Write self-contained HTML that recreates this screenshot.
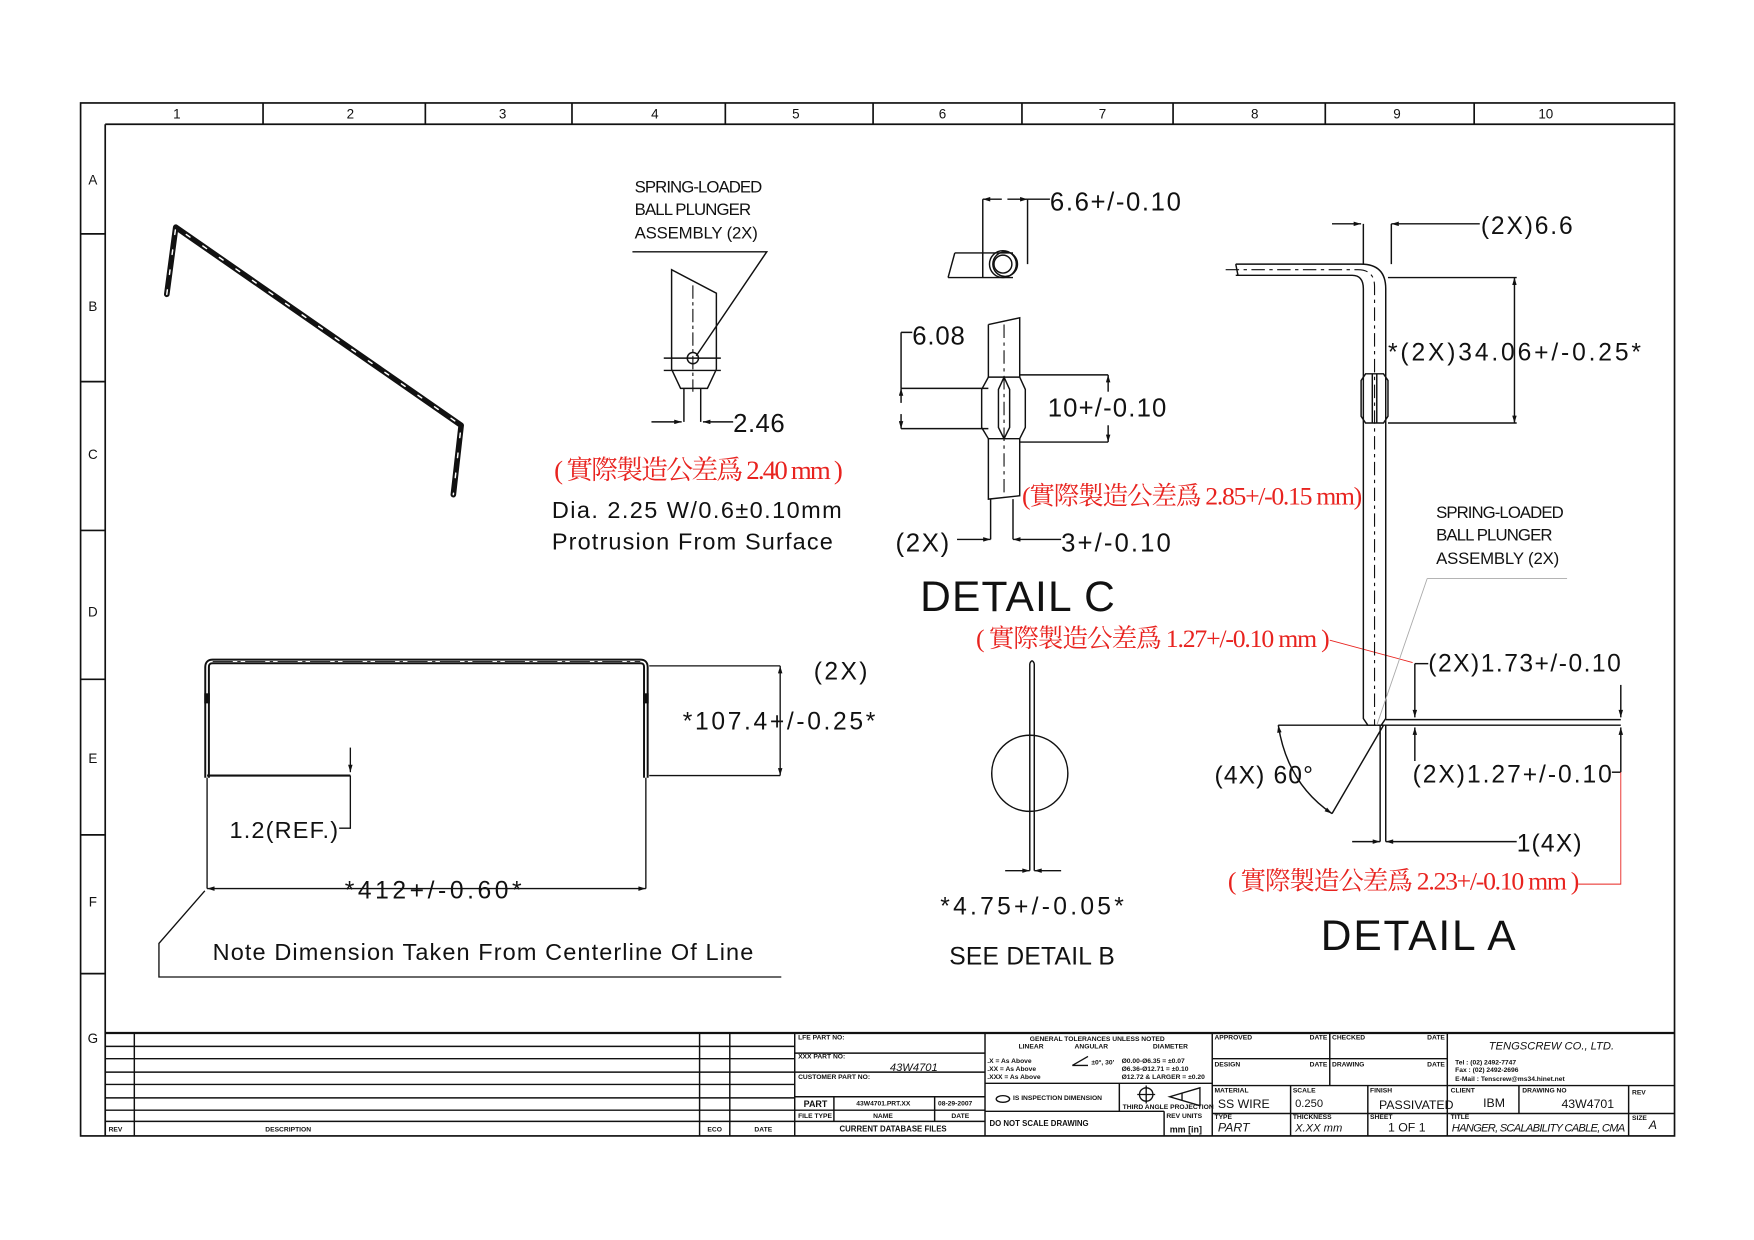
<!DOCTYPE html>
<html><head><meta charset="utf-8"><style>
html,body{margin:0;padding:0;background:#fff}
svg{display:block}
text{font-family:"Liberation Sans",sans-serif;fill:#111}
.cjk{font-family:"Liberation Serif","Noto Serif CJK SC","Noto Sans CJK TC",serif;fill:#e8231f}
.t{font-family:"Liberation Sans",sans-serif;font-weight:bold;font-size:6px}
</style></head><body>
<svg width="1754" height="1240" viewBox="0 0 1567 1108" preserveAspectRatio="none" xmlns="http://www.w3.org/2000/svg">
<defs>
<marker id="a" viewBox="0 0 10 6" refX="10" refY="3" markerWidth="10" markerHeight="4" orient="auto-start-reverse" markerUnits="userSpaceOnUse"><path d="M0,0 L10,3 L0,6 z" fill="#111"/></marker>
</defs>
<rect width="1567" height="1108" fill="#fff"/>
<g stroke="#111" fill="none" stroke-width="1.5">
<rect x="72" y="92" width="1424" height="923"/>
<line x1="94" y1="111" x2="1496" y2="111"/>
<line x1="94" y1="111" x2="94" y2="1015"/>
<path d="M235 92V111M380 92V111M511 92V111M648 92V111M780 92V111M913 92V111M1048 92V111M1184 92V111M1317 92V111"/>
<path d="M72 209H94M72 341H94M72 474H94M72 607H94M72 746H94M72 870H94"/>
</g>
<g font-size="12" text-anchor="middle">
<text x="158" y="106">1</text><text x="313" y="106">2</text><text x="449" y="106">3</text><text x="585" y="106">4</text><text x="711" y="106">5</text><text x="842" y="106">6</text><text x="985" y="106">7</text><text x="1121" y="106">8</text><text x="1248" y="106">9</text><text x="1381" y="106">10</text>
<text x="83" y="165">A</text><text x="83" y="278">B</text><text x="83" y="410">C</text><text x="83" y="551">D</text><text x="83" y="682">E</text><text x="83" y="810">F</text><text x="83" y="932">G</text>
</g>

<g stroke="#111" fill="none" stroke-width="1.3">
<line x1="94" y1="923" x2="1496" y2="923" stroke-width="2"/>
<path d="M94 935H710M94 946H710M94 958H710M94 969H710M94 981H710M94 992H710M94 1002H710"/>
<path d="M120 923V1015M625 923V1015M652 923V1015M710 923V1015"/>
<path d="M710 941H880M710 958H880M710 980H880M710 992H880M710 1002H880M745 980V1002M835 980V1002M880 923V1015"/>
<path d="M880 968H1083M880 993H1040M1000 968V993M1040 993V1015M1083 923V1015"/>
<path d="M1083 946H1293M1083 970H1496M1083 995H1496M1188 923V970M1153 970V1015M1222 970V1015M1293 923V1015M1357 970V995M1455 970V1015"/>
</g>
<g class="t">
<text x="97" y="1011">REV</text><text x="237" y="1011">DESCRIPTION</text><text x="632" y="1011">ECO</text><text x="674" y="1011">DATE</text>
<text x="713" y="929">LFE PART NO:</text><text x="713" y="946">XXX PART NO:</text><text x="713" y="964">CUSTOMER PART NO:</text>
<text x="718" y="989" font-size="8">PART</text><text x="765" y="988">43W4701.PRT.XX</text><text x="838" y="988">08-29-2007</text>
<text x="713" y="999">FILE TYPE</text><text x="780" y="999">NAME</text><text x="850" y="999">DATE</text>
<text x="750" y="1011" font-size="7">CURRENT DATABASE FILES</text>
<text x="920" y="930">GENERAL TOLERANCES UNLESS NOTED</text>
<text x="910" y="937">LINEAR</text><text x="960" y="937">ANGULAR</text><text x="1030" y="937">DIAMETER</text>
<text x="882" y="950">.X = As Above</text><text x="882" y="957">.XX = As Above</text><text x="882" y="964">.XXX = As Above</text>
<text x="975" y="951">±0°, 30'</text>
<text x="1002" y="950">Ø0.00-Ø6.35 = ±0.07</text><text x="1002" y="957">Ø6.36-Ø12.71 = ±0.10</text><text x="1002" y="964">Ø12.72 &amp; LARGER = ±0.20</text>
<text x="905" y="983">IS INSPECTION DIMENSION</text><text x="1003" y="991">THIRD ANGLE PROJECTION</text>
<text x="884" y="1006" font-size="7">DO NOT SCALE DRAWING</text><text x="1042" y="999">REV UNITS</text><text x="1045" y="1012" font-size="8">mm [in]</text>
<text x="1085" y="929">APPROVED</text><text x="1170" y="929">DATE</text><text x="1190" y="929">CHECKED</text><text x="1275" y="929">DATE</text>
<text x="1085" y="953">DESIGN</text><text x="1170" y="953">DATE</text><text x="1190" y="953">DRAWING</text><text x="1275" y="953">DATE</text>
<text x="1085" y="976">MATERIAL</text><text x="1155" y="976">SCALE</text><text x="1224" y="976">FINISH</text>
<text x="1085" y="1000">TYPE</text><text x="1155" y="1000">THICKNESS</text><text x="1224" y="1000">SHEET</text>
<text x="1296" y="976">CLIENT</text><text x="1360" y="976">DRAWING NO</text><text x="1458" y="978">REV</text>
<text x="1296" y="1000">TITLE</text><text x="1458" y="1001">SIZE</text>
<text x="1300" y="951">Tel   : (02) 2492-7747</text><text x="1300" y="958">Fax   : (02) 2492-2696</text><text x="1300" y="966">E-Mail : Tenscrew@ms34.hinet.net</text>
</g>
<g font-style="italic" font-size="10">
<text x="795" y="957">43W4701</text>
<text x="1330" y="938" font-size="10">TENGSCREW  CO.,  LTD.</text>
<text x="1088" y="990" font-size="11" font-style="normal">SS WIRE</text><text x="1157" y="989" font-size="10" font-style="normal">0.250</text><text x="1232" y="991" font-size="11" font-style="normal">PASSIVATED</text>
<text x="1088" y="1011" font-size="11">PART</text><text x="1157" y="1011">X.XX mm</text><text x="1240" y="1011" font-style="normal" font-size="11">1 OF 1</text>
<text x="1325" y="989" font-style="normal" font-size="11">IBM</text><text x="1395" y="990" font-style="normal" font-size="11">43W4701</text>
<text x="1297" y="1011" font-size="10" textLength="155">HANGER, SCALABILITY CABLE, CMA</text><text x="1473" y="1009" font-size="11">A</text>
</g>
<g stroke="#111" fill="none" stroke-width="1.2">
<circle cx="1024" cy="978" r="6"/><path d="M1016 978H1032M1024 970V986"/>
<path d="M1045 980L1072 972V988Z"/><path d="M1056 977V983"/>
<path d="M958 952L972 944M958 952H972"/>
<ellipse cx="896" cy="982" rx="6" ry="3"/>
</g>

<g fill="none" stroke-linecap="round" stroke-linejoin="round">
<path d="M149 263L157 203L412 380L405 442" stroke="#111" stroke-width="5"/>
<path d="M149 263L157 203L412 380L405 442" stroke="#fff" stroke-width="1.3" stroke-dasharray="4 14"/>
</g>

<g fill="none" stroke="#111">
<path d="M185 695V596Q185 591 190 591H572Q577 591 577 596V695" stroke-width="5"/>
<path d="M185 695V596Q185 591 190 591H572Q577 591 577 596V695" stroke="#fff" stroke-width="1.5"/>
<path d="M190 591H572" stroke="#111" stroke-width="0.8" stroke-dasharray="18 4 3 4"/>
<rect x="183" y="620" width="4" height="8" fill="#111"/><rect x="575" y="620" width="4" height="8" fill="#111"/>
<g stroke-width="1.2">
<line x1="185" y1="693" x2="313" y2="693" stroke-width="2"/>
<line x1="313" y1="668" x2="313" y2="690" marker-end="url(#a)"/>
<path d="M313 693V740H303"/>
<line x1="185" y1="695" x2="185" y2="794"/><line x1="577" y1="695" x2="577" y2="794"/>
<line x1="185" y1="794" x2="577" y2="794" marker-start="url(#a)" marker-end="url(#a)"/>
<path d="M183 796L142 843V873H698"/>
<line x1="580" y1="595" x2="697" y2="595"/><line x1="580" y1="693" x2="697" y2="693"/>
<line x1="697" y1="595" x2="697" y2="693" marker-start="url(#a)" marker-end="url(#a)"/>
</g>
</g>
<text x="205" y="749" font-size="21" textLength="97">1.2(REF.)</text>
<text x="308" y="803" font-size="22" textLength="158">*412+/-0.60*</text>
<text x="190" y="858" font-size="21" textLength="483">Note Dimension Taken From Centerline Of Line</text>
<text x="727" y="607" font-size="22" textLength="48">(2X)</text>
<text x="610" y="652" font-size="22" textLength="172">*107.4+/-0.25*</text>

<g font-size="15"><text x="567" y="172" textLength="114">SPRING-LOADED</text><text x="567" y="192" textLength="104">BALL PLUNGER</text><text x="567" y="213" textLength="110">ASSEMBLY (2X)</text></g>
<g fill="none" stroke="#111" stroke-width="1.3">
<path d="M565 225H685L622 318"/>
<path d="M600 330V241L640 262V330M600 330L608 347H632L640 330M611 347V377M626 347V377M593 320H644M593 331H644"/>
<circle cx="619" cy="320" r="5"/>
<path d="M619 255V350" stroke-dasharray="12 3 3 3" stroke-width="1"/>
<line x1="582" y1="377" x2="609" y2="377" marker-end="url(#a)"/>
<line x1="655" y1="377" x2="628" y2="377" marker-end="url(#a)"/>
</g>
<text x="655" y="386" font-size="23" textLength="46">2.46</text>
<text x="495" y="428" class="cjk" font-size="24" textLength="258">( 實際製造公差爲 2.40 mm )</text>
<text x="493" y="463" font-size="21" textLength="259">Dia. 2.25 W/0.6±0.10mm</text>
<text x="493" y="491" font-size="21" textLength="251">Protrusion From Surface</text>

<g fill="none" stroke="#111" stroke-width="1.3">
<path d="M853 226H905M847 248H905M853 226L847 248M878 226V248"/>
<circle cx="896" cy="236" r="12"/><circle cx="896" cy="236" r="8"/><circle cx="898" cy="236" r="11"/>
<path d="M878 248V178M918 236V178"/>
<line x1="895" y1="178" x2="878" y2="178" marker-end="url(#a)"/>
<line x1="900" y1="178" x2="918" y2="178" marker-end="url(#a)"/>
<path d="M918 178H938"/>
</g>
<text x="938" y="188" font-size="23" textLength="117">6.6+/-0.10</text>
<g fill="none" stroke="#111" stroke-width="1.3">
<path d="M883 290L911 284V337M883 290V337M883 392V446L911 443V392"/>
<path d="M883 337L877 348V382L883 392H911L916 382V348L911 337Z"/>
<path d="M897 337L892 348V382L897 392L902 382V348Z"/>
<path d="M897 290V445" stroke-dasharray="12 4 3 4" stroke-width="1"/>
<path d="M805 297H815M805 347H883M805 383H883M911 335H990M911 395H990"/>
<line x1="805" y1="297" x2="805" y2="347"/>
<line x1="805" y1="360" x2="805" y2="347" marker-end="url(#a)"/>
<line x1="805" y1="370" x2="805" y2="383" marker-end="url(#a)"/>
<line x1="990" y1="350" x2="990" y2="335" marker-end="url(#a)"/>
<line x1="990" y1="380" x2="990" y2="395" marker-end="url(#a)"/>
<path d="M885 446V482M905 446V482"/>
<line x1="855" y1="482" x2="885" y2="482" marker-end="url(#a)"/>
<line x1="948" y1="482" x2="905" y2="482" marker-end="url(#a)"/>
</g>
<text x="815" y="308" font-size="23" textLength="47">6.08</text>
<text x="936" y="372" font-size="23" textLength="106">10+/-0.10</text>
<text x="913" y="451" class="cjk" font-size="23" textLength="304">(實際製造公差爲 2.85+/-0.15 mm)</text>
<text x="800" y="493" font-size="23" textLength="48">(2X)</text>
<text x="948" y="493" font-size="23" textLength="98">3+/-0.10</text>
<text x="822" y="546" font-size="38" textLength="174">DETAIL C</text>
<text x="872" y="578" class="cjk" font-size="23" textLength="316">( 實際製造公差爲 1.27+/-0.10 mm )</text>
<path d="M1188 572L1262 592" stroke="#e8231f" stroke-width="0.8" fill="none"/>

<g fill="none" stroke="#111" stroke-width="1.3">
<path d="M920 593V778M924 593V778M920 593Q922 588 924 593"/>
<path d="M922 598V770" stroke="#fff" stroke-width="1" stroke-dasharray="6 6"/>
<circle cx="920" cy="691" r="34"/>
<line x1="898" y1="778" x2="920" y2="778" marker-end="url(#a)"/>
<line x1="948" y1="778" x2="924" y2="778" marker-end="url(#a)"/>
</g>
<text x="840" y="817" font-size="22" textLength="164">*4.75+/-0.05*</text>
<text x="848" y="862" font-size="22" textLength="148">SEE DETAIL B</text>

<g fill="none" stroke="#111" stroke-width="1.3">
<path d="M1104 236H1216Q1238 236 1238 258V642L1234 648H1222L1218 642V258Q1218 246 1208 246H1104"/>
<path d="M1104 236L1106 246"/>
<path d="M1095 241H1213Q1228 241 1228 256V648" stroke-dasharray="12 4 3 4" stroke-width="1"/>
<path d="M1216 340L1220 334H1236L1240 340V372L1236 378H1220L1216 372Z"/>
<path d="M1226 334V378M1230 334V378"/>
<line x1="1190" y1="200" x2="1216" y2="200" marker-end="url(#a)"/>
<path d="M1218 200V236M1243 200V236"/>
<line x1="1322" y1="200" x2="1243" y2="200" marker-end="url(#a)"/>
<path d="M1240 248H1355M1240 378H1355"/>
<line x1="1353" y1="248" x2="1353" y2="378" marker-start="url(#a)" marker-end="url(#a)"/>
<path d="M1238 643H1448M1142 648H1448"/>
<line x1="1448" y1="612" x2="1448" y2="641" marker-end="url(#a)"/>
<line x1="1448" y1="690" x2="1448" y2="650" marker-end="url(#a)"/>
<path d="M1448 690H1440"/>
<path d="M1276 593H1264"/>
<line x1="1264" y1="593" x2="1264" y2="641" marker-end="url(#a)"/>
<line x1="1264" y1="680" x2="1264" y2="650" marker-end="url(#a)"/>
<path d="M1142 648Q1150 700 1190 727" marker-start="url(#a)" marker-end="url(#a)"/>
<path d="M1236 648L1190 727"/>
<path d="M1233 648V752M1238 648V752"/>
<line x1="1208" y1="752" x2="1233" y2="752" marker-end="url(#a)"/>
<line x1="1355" y1="752" x2="1238" y2="752" marker-end="url(#a)"/>
</g>
<path d="M1275 517H1400M1275 517L1230 648" stroke="#aaa" stroke-width="0.8" fill="none"/>
<text x="1323" y="209" font-size="22" textLength="82">(2X)6.6</text>
<text x="1240" y="322" font-size="22" textLength="226">*(2X)34.06+/-0.25*</text>
<g font-size="15"><text x="1283" y="463" textLength="114">SPRING-LOADED</text><text x="1283" y="483" textLength="104">BALL PLUNGER</text><text x="1283" y="504" textLength="110">ASSEMBLY (2X)</text></g>
<text x="1276" y="600" font-size="22" textLength="172">(2X)1.73+/-0.10</text>
<text x="1262" y="699" font-size="22" textLength="178">(2X)1.27+/-0.10</text>
<text x="1085" y="700" font-size="22" textLength="88">(4X) 60°</text>
<text x="1355" y="761" font-size="22" textLength="58">1(4X)</text>
<text x="1097" y="795" class="cjk" font-size="23" textLength="314">( 實際製造公差爲 2.23+/-0.10 mm )</text>
<path d="M1410 790H1448V690" stroke="#e8231f" stroke-width="0.8" fill="none"/>
<text x="1180" y="849" font-size="38" textLength="174">DETAIL A</text>
</svg>
</body></html>
